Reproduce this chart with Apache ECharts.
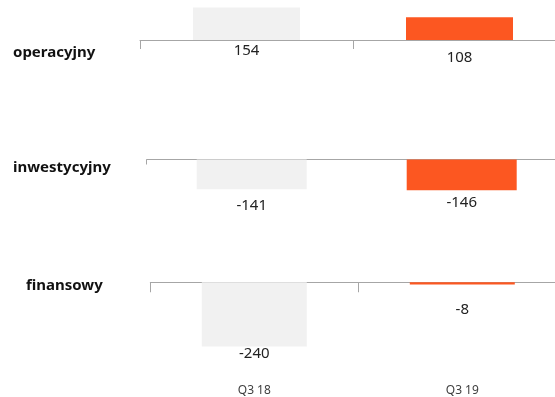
<!DOCTYPE html>
<html>
<head>
<meta charset="utf-8">
<script src="https://cdn.jsdelivr.net/npm/echarts@6/dist/echarts.min.js"></script>
<style>
  html, body { margin: 0; padding: 0; background: #ffffff; }
  #chart { width: 555px; height: 397px; }
</style>
</head>
<body>
<div id="chart"></div>
<script>
// Cash flows by activity, Q3 18 vs Q3 19
const quarters = ['Q3 18', 'Q3 19'];
const flowNames = ['operacyjny', 'inwestycyjny', 'finansowy'];
const operating = [154, 108];
const investing = [-141, -146];
const financing = [-240, -8];

const FONT = '"Noto Sans", "Open Sans", sans-serif';
const GREY = '#f1f1f1';
const ORANGE = '#fc5721';
const AXIS = '#a6a6a6';

// Layout of the three stacked panels
const panels = [
  { values: operating, top: 0,     height: 80,  min: -190, max: 190, left: 140,   right: -11,   barWidth: 107, tickLen: 9,  gaps: [3, 10], onlyFirstTick: false },
  { values: investing, top: 119.5, height: 80,  min: -190, max: 190, left: 146.7, right: -11.7, barWidth: 110, tickLen: 5,  gaps: [9, 5],  onlyFirstTick: true },
  { values: financing, top: 255.5, height: 107, min: -300, max: 100, left: 150.3, right: -11.3, barWidth: 105, tickLen: 10, gaps: [0, 18], onlyFirstTick: false }
];

const titleTops = [44, 159, 277];
const titleLefts = [13, 13, 26];

const baseAxes = panels.map((p, i) => ({
  type: 'category',
  gridIndex: i,
  data: quarters,
  boundaryGap: true,
  axisLine: { show: true, onZero: true, lineStyle: { color: AXIS, width: 1 } },
  axisTick: {
    show: true,
    length: p.tickLen,
    lineStyle: { color: AXIS, width: 1 },
    interval: p.onlyFirstTick ? (idx => idx === 0) : 0
  },
  axisLabel: { show: false },
  splitLine: { show: false }
}));

// Quarter names along the foot of the bottom panel
const quarterAxis = {
  type: 'category',
  gridIndex: 2,
  data: quarters,
  position: 'bottom',
  boundaryGap: true,
  axisLine: { show: false, onZero: false },
  axisTick: { show: false },
  axisLabel: { show: true, margin: 22, fontFamily: FONT, fontSize: 12, color: '#404040' },
  splitLine: { show: false }
};

const option = {
  animation: false,
  backgroundColor: '#ffffff',
  title: flowNames.map((name, i) => ({
    text: name,
    left: titleLefts[i],
    top: titleTops[i],
    padding: 0,
    textStyle: { fontFamily: FONT, fontSize: 15, fontWeight: 'bold', color: '#111111', lineHeight: 18 }
  })),
  grid: panels.map(p => ({
    left: p.left, right: p.right, top: p.top, height: p.height,
    containLabel: false,
    outerBoundsMode: 'none'
  })),
  xAxis: baseAxes.concat([quarterAxis]),
  yAxis: panels.map((p, i) => ({
    type: 'value',
    gridIndex: i,
    min: p.min,
    max: p.max,
    show: false,
    splitLine: { show: false }
  })),
  series: panels.map((p, i) => ({
    type: 'bar',
    xAxisIndex: i,
    yAxisIndex: i,
    barWidth: p.barWidth,
    data: p.values.map((v, j) => ({
      value: v,
      itemStyle: { color: j === 0 ? GREY : ORANGE },
      label: { distance: p.gaps[j] }
    })),
    label: {
      show: true,
      position: 'bottom',
      fontFamily: FONT,
      fontSize: 15,
      color: '#222222'
    }
  }))
};

const chart = echarts.init(document.getElementById('chart'), null, { renderer: 'canvas' });
chart.setOption(option);
</script>
</body>
</html>
